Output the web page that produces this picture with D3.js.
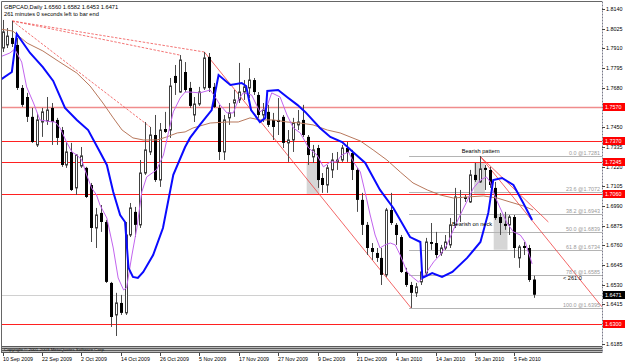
<!DOCTYPE html>
<html>
<head>
<meta charset="utf-8">
<script src="https://cdn.jsdelivr.net/npm/d3@7"></script>
<style>
body { margin: 0; background: #fff; }
text { font-family: "Liberation Sans", Arial, sans-serif; }
</style>
</head>
<body>
<script>
// GBPCAD daily bars, 10 Sep 2009 .. 11 Feb 2010 (bar index 0..108)
var opens = [1.7912,1.7930,1.7971,1.7930,1.7679,1.7626,1.7510,1.7346,1.7480,1.7486,
    1.7562,1.7492,1.7433,1.7229,1.7305,1.7095,1.7223,1.7212,1.7112,1.6861,
    1.6949,1.6896,1.6540,1.6353,1.6423,1.6365,1.6820,1.6955,1.6879,1.7182,
    1.7305,1.7404,1.7141,1.7439,1.7433,1.7749,1.7655,1.7772,1.7679,1.7521,
    1.7585,1.7679,1.7860,1.7685,1.7562,1.7305,1.7504,1.7591,1.7609,1.7655,
    1.7679,1.7725,1.7638,1.7521,1.7539,1.7492,1.7492,1.7510,1.7358,1.7375,
    1.7463,1.7492,1.7393,1.7276,1.7328,1.7153,1.7112,1.7200,1.7247,1.7258,
    1.7328,1.7299,1.7200,1.7025,1.6879,1.6744,1.6715,1.6686,1.6587,1.6966,
    1.6879,1.6808,1.6604,1.6528,1.6482,1.6546,1.6598,1.6779,1.6773,1.6715,
    1.6744,1.6762,1.6879,1.7042,1.7042,1.7013,1.7171,1.7130,1.7212,1.7200,
    1.7095,1.6925,1.6885,1.6879,1.6925,1.6686,1.6756,1.6744,1.6560];
var highs = [1.8076,1.8029,1.8070,1.7971,1.7696,1.7650,1.7562,1.7533,1.7562,1.7626,
    1.7591,1.7504,1.7451,1.7363,1.7358,1.7293,1.7334,1.7218,1.7124,1.6978,
    1.6995,1.6908,1.6546,1.6482,1.6470,1.6896,1.7007,1.6984,1.7258,1.7480,
    1.7451,1.7521,1.7474,1.7539,1.7737,1.7813,1.7871,1.7830,1.7714,1.7626,
    1.7685,1.7889,1.7883,1.7708,1.7580,1.7521,1.7591,1.7667,1.7825,1.7725,
    1.7795,1.7737,1.7655,1.7591,1.7580,1.7533,1.7620,1.7521,1.7433,1.7504,
    1.7550,1.7580,1.7404,1.7346,1.7346,1.7182,1.7229,1.7299,1.7305,1.7346,
    1.7363,1.7317,1.7212,1.7066,1.6896,1.6773,1.6744,1.6744,1.6978,1.7066,
    1.6890,1.6820,1.6628,1.6546,1.6540,1.6628,1.6803,1.6890,1.6838,1.6762,
    1.6820,1.6919,1.7095,1.7083,1.7054,1.7200,1.7241,1.7281,1.7229,1.7218,
    1.7130,1.6949,1.6955,1.6937,1.6937,1.6762,1.6779,1.6762,1.6582];
var lows = [1.7889,1.7912,1.7918,1.7667,1.7568,1.7480,1.7358,1.7334,1.7393,1.7463,
    1.7346,1.7346,1.7218,1.7212,1.7077,1.7054,1.7212,1.7036,1.6779,1.6744,
    1.6838,1.6540,1.6283,1.6230,1.6353,1.6353,1.6808,1.6808,1.6861,1.7171,
    1.7287,1.7130,1.7101,1.7416,1.7387,1.7638,1.7650,1.7655,1.7562,1.7480,
    1.7574,1.7667,1.7655,1.7562,1.7258,1.7258,1.7463,1.7510,1.7591,1.7609,
    1.7620,1.7638,1.7504,1.7480,1.7451,1.7375,1.7404,1.7328,1.7247,1.7305,
    1.7433,1.7393,1.7229,1.7241,1.7095,1.7066,1.7066,1.7153,1.7200,1.7247,
    1.7247,1.7141,1.6955,1.6820,1.6703,1.6674,1.6663,1.6528,1.6575,1.6879,
    1.6762,1.6598,1.6517,1.6394,1.6458,1.6528,1.6587,1.6733,1.6686,1.6698,
    1.6733,1.6744,1.6861,1.6896,1.7013,1.7007,1.7130,1.7124,1.7083,1.7095,
    1.6908,1.6820,1.6850,1.6820,1.6686,1.6628,1.6703,1.6546,1.6453];
var closes = [1.8006,1.7982,1.7936,1.7679,1.7580,1.7510,1.7363,1.7492,1.7539,1.7550,
    1.7480,1.7387,1.7229,1.7305,1.7083,1.7287,1.7282,1.7042,1.6861,1.6937,
    1.6896,1.6546,1.6341,1.6423,1.6365,1.6820,1.6978,1.6879,1.7182,1.7317,
    1.7404,1.7141,1.7433,1.7422,1.7690,1.7708,1.7842,1.7667,1.7574,1.7585,
    1.7655,1.7854,1.7679,1.7568,1.7305,1.7492,1.7533,1.7609,1.7655,1.7685,
    1.7725,1.7655,1.7521,1.7550,1.7463,1.7451,1.7480,1.7358,1.7375,1.7474,
    1.7480,1.7404,1.7287,1.7317,1.7141,1.7112,1.7212,1.7258,1.7258,1.7328,
    1.7299,1.7200,1.7025,1.6879,1.6744,1.6721,1.6686,1.6587,1.6966,1.6890,
    1.6820,1.6604,1.6528,1.6482,1.6517,1.6604,1.6779,1.6768,1.6703,1.6744,
    1.6779,1.6879,1.7042,1.7036,1.7031,1.7171,1.7141,1.7206,1.7200,1.7112,
    1.6919,1.6890,1.6873,1.6925,1.6744,1.6750,1.6744,1.6557,1.6471];

// date labels, one every 8 bars
var dateLabels = ["10 Sep 2009", "22 Sep 2009", "2 Oct 2009", "14 Oct 2009", "26 Oct 2009",
    "5 Nov 2009", "17 Nov 2009", "27 Nov 2009", "9 Dec 2009", "21 Dec 2009",
    "4 Jan 2010", "14 Jan 2010", "26 Jan 2010", "5 Feb 2010"];
var priceTicks = [1.8140, 1.8025, 1.7910, 1.7795, 1.7680, 1.7450, 1.7335, 1.7220,
    1.7105, 1.6990, 1.6875, 1.6760, 1.6645, 1.6530, 1.6415, 1.6185];

// indicator lines: [bar, price]
var blueLine = [[-0.5,1.7725],[1.9,1.7772],[2.9,1.7994],[5.6,1.7883],[8.2,1.7801],[10.3,1.7720],
    [12.7,1.7562],[15.1,1.7492],[17.4,1.7433],[19.8,1.7305],[21.2,1.7229],[22.5,1.7071],
    [23.9,1.6937],[24.9,1.6896],[25.6,1.6628],[26.5,1.6575],[27.5,1.6569],[28.6,1.6604],
    [30.6,1.6703],[32.6,1.6861],[34.7,1.7171],[37.1,1.7334],[38.1,1.7387],[40.1,1.7463],
    [42.5,1.7550],[43.9,1.7754],[46.3,1.7696],[48.6,1.7708],[49.5,1.7690],[50.5,1.7550],
    [52.3,1.7480],[53.4,1.7504],[53.8,1.7661],[56,1.7667],[57.8,1.7626],[59.9,1.7580],
    [61.5,1.7539],[64.5,1.7445],[66.6,1.7393],[69,1.7363],[71.2,1.7305],[73.7,1.7241],
    [74.7,1.7188],[76.7,1.7083],[79.4,1.6978],[82.8,1.6808],[84.9,1.6779],[85.3,1.6569],
    [87.3,1.6598],[89.3,1.6575],[91.4,1.6604],[94.4,1.6686],[97.1,1.6779],[98.7,1.6949],
    [99.7,1.7141],[101.5,1.7153],[103.8,1.7112],[105.8,1.7007],[107.6,1.6908]];
var purpleLine = [[-0.5,1.7860],[1.5,1.7883],[2.5,1.7906],[3.9,1.7830],[4.9,1.7685],[6.3,1.7591],
    [7.6,1.7492],[9.7,1.7482],[10.7,1.7480],[11.7,1.7445],[13,1.7363],[14.1,1.7305],
    [15.1,1.7287],[16.1,1.7258],[17.1,1.7171],[18.1,1.7095],[19.1,1.7054],[19.8,1.6995],
    [21.2,1.6919],[22.5,1.6744],[23.5,1.6569],[24.6,1.6499],[25.2,1.6511],[26.3,1.6703],
    [27.3,1.6861],[28.3,1.7071],[29.3,1.7159],[31.3,1.7200],[32.7,1.7287],[33.7,1.7416],
    [34.7,1.7539],[36.1,1.7620],[37.1,1.7655],[38.1,1.7655],[40.1,1.7650],[42.2,1.7667],
    [43.2,1.7626],[44.2,1.7580],[45.6,1.7533],[46.9,1.7533],[47.9,1.7609],[48.9,1.7650],
    [50.6,1.7638],[52.3,1.7539],[53.7,1.7568],[54.7,1.7650],[56.4,1.7626],[57.8,1.7521],
    [59.1,1.7445],[60.5,1.7416],[62.2,1.7328],[63.9,1.7287],[65.2,1.7218],[66.6,1.7247],
    [67.9,1.7247],[68.9,1.7287],[70.3,1.7305],[71.3,1.7247],[72.7,1.7188],[73.7,1.7066],
    [74.7,1.6937],[75.7,1.6820],[76.7,1.6744],[77.7,1.6762],[78.8,1.6773],[79.8,1.6762],
    [80.8,1.6703],[82.2,1.6604],[83.5,1.6569],[84.5,1.6546],[85.5,1.6569],[86.2,1.6604],
    [87.6,1.6663],[88.9,1.6703],[90.3,1.6762],[91.6,1.6850],[93,1.6937],[94.3,1.7013],
    [95.7,1.7095],[97.1,1.7141],[98.3,1.7159],[99.1,1.7130],[100.1,1.7042],[101.1,1.6978],
    [102.5,1.6890],[103.8,1.6838],[105.2,1.6820],[106.2,1.6779],[107.6,1.6651]];
var brownLine = [[-0.5,1.8023],[2.1,1.8011],[5,1.7941],[8.2,1.7895],[11.3,1.7836],[15.1,1.7766],
    [17.8,1.7690],[20.4,1.7591],[22.5,1.7504],[24.3,1.7433],[26.5,1.7387],[28.6,1.7375],
    [31.4,1.7375],[33.4,1.7393],[35.5,1.7416],[37.1,1.7422],[38.7,1.7445],[42.2,1.7474],
    [45.6,1.7480],[47.9,1.7480],[50.3,1.7504],[52.3,1.7492],[55,1.7492],[57.8,1.7480],
    [60.5,1.7474],[63.1,1.7463],[66,1.7433],[68.6,1.7416],[70.6,1.7393],[72.7,1.7369],
    [75.3,1.7317],[78.1,1.7258],[80.8,1.7188],[83.4,1.7124],[86.3,1.7083],[88.9,1.7054],
    [91.6,1.7036],[94.4,1.7042],[97.7,1.7048],[100.5,1.7036],[103.1,1.7013],[105.8,1.6990],
    [107.8,1.6966]];

// drawn objects
var levels = [1.7570, 1.7370, 1.7245, 1.7060, 1.6300];
var fibPcts = ["0.0", "23.6", "38.2", "50.0", "61.8", "78.6", "100.0"];
var fibPrices = [1.7281, 1.7072, 1.6943, 1.6839, 1.6734, 1.6585, 1.6395];
var fibStartBar = 82.6;
var dashedLines = [[2, 1.8070, 41, 1.7889], [2, 1.8070, 36, 1.7871], [2, 1.8070, 30, 1.7451]];
var trendLines = [[41, 1.7889, 83, 1.6394], [97, 1.7281, 121.8, 1.6400], [97, 1.7281, 110.9, 1.6896]];
var shadeBoxes = [[61.8, 64.4, 1.7245, 1.7060], [95.8, 98.0, 1.7245, 1.7060], [99.8, 102.6, 1.6943, 1.6734]];
var notes = [["Bearish pattern", 93.3, 1.7299], ["Bearish on neck", 91.3, 1.6873]];

var width = 625,
    height = 364,
    plotRight = 602,
    plotBottom = 345;

var svg = d3.select('body')
    .append('svg')
    .attr('width', width)
    .attr('height', height);

var x = d3.scaleLinear().domain([0, 121.8]).range([2.5, plotRight]);
var y = d3.scaleLinear().domain([1.6185, 1.8140]).range([343.7, 9]);

svg.append("defs").append("clipPath")
    .attr("id", "plot")
    .append("rect")
    .attr("x", 2).attr("y", 2)
    .attr("width", plotRight - 2).attr("height", plotBottom - 2);

var plot = svg.append("g").attr("clip-path", "url(#plot)");

// shaded pattern boxes
plot.selectAll("rect.shade")
    .data(shadeBoxes)
    .enter().append("rect")
    .attr("class", "shade")
    .attr("x", function (d) { return x(d[0]); })
    .attr("y", function (d) { return y(d[2]); })
    .attr("width", function (d) { return x(d[1]) - x(d[0]); })
    .attr("height", function (d) { return y(d[3]) - y(d[2]); })
    .attr("fill", "#d6d6d6");

// fibonacci levels
for (var f = 0; f < fibPrices.length; ++f) {
    var fy = Math.round(y(fibPrices[f])) + 0.5;
    plot.append("line")
        .attr("x1", x(fibStartBar)).attr("x2", plotRight)
        .attr("y1", fy).attr("y2", fy)
        .attr("stroke", "#b4b4b4")
        .attr("stroke-width", 1);
    svg.append("text")
        .attr("x", 600)
        .attr("y", fy - 1.5)
        .attr("text-anchor", "end")
        .style("font-size", "5.4px")
        .style("fill", "#9a9a9a")
        .text(fibPcts[f] + " @" + fibPrices[f].toFixed(4));
}

// bid line
var bidY = Math.round(y(closes[closes.length - 1])) + 0.5;
plot.append("line")
    .attr("x1", 2).attr("x2", plotRight)
    .attr("y1", bidY).attr("y2", bidY)
    .attr("stroke", "#d0d0d0");

// horizontal levels
plot.selectAll("line.level")
    .data(levels)
    .enter().append("line")
    .attr("class", "level")
    .attr("x1", 2).attr("x2", plotRight)
    .attr("y1", function (d) { return Math.round(y(d)) + 0.5; })
    .attr("y2", function (d) { return Math.round(y(d)) + 0.5; })
    .attr("stroke", function (d, i) { return i === 0 ? "#f08c8c" : "#ff2020"; })
    .attr("stroke-width", function (d, i) { return i === 0 ? 1.6 : 1; });

// trend lines
plot.selectAll("line.dash")
    .data(dashedLines)
    .enter().append("line")
    .attr("x1", function (d) { return x(d[0]); })
    .attr("y1", function (d) { return y(d[1]); })
    .attr("x2", function (d) { return x(d[2]); })
    .attr("y2", function (d) { return y(d[3]); })
    .attr("stroke", "#f05050")
    .attr("stroke-width", 0.8)
    .attr("stroke-dasharray", "2.5,1.5");
plot.selectAll("line.trend")
    .data(trendLines)
    .enter().append("line")
    .attr("x1", function (d) { return x(d[0]); })
    .attr("y1", function (d) { return y(d[1]); })
    .attr("x2", function (d) { return x(d[2]); })
    .attr("y2", function (d) { return y(d[3]); })
    .attr("stroke", "#f04040")
    .attr("stroke-width", 0.8);

// candles
var bars = d3.range(opens.length);
plot.selectAll("line.wick")
    .data(bars)
    .enter().append("line")
    .attr("x1", function (i) { return Math.round(x(i)) + 0.5; })
    .attr("x2", function (i) { return Math.round(x(i)) + 0.5; })
    .attr("y1", function (i) { return y(highs[i]); })
    .attr("y2", function (i) { return y(lows[i]); })
    .attr("stroke", "#4a4a4a")
    .attr("stroke-width", 1);
plot.selectAll("rect.body")
    .data(bars)
    .enter().append("rect")
    .attr("x", function (i) {
        return closes[i] >= opens[i] ? Math.round(x(i)) - 0.5 : Math.round(x(i)) - 1;
    })
    .attr("y", function (i) { return y(Math.max(opens[i], closes[i])); })
    .attr("width", function (i) { return closes[i] >= opens[i] ? 2 : 3; })
    .attr("height", function (i) {
        return Math.max(1, Math.abs(y(opens[i]) - y(closes[i])));
    })
    .attr("fill", function (i) { return closes[i] >= opens[i] ? "#fff" : "#000"; })
    .attr("stroke", function (i) { return closes[i] >= opens[i] ? "#404040" : "none"; })
    .attr("stroke-width", 1);

// indicators
var line = d3.line()
    .x(function (d) { return x(d[0]); })
    .y(function (d) { return y(d[1]); });
plot.append("path").datum(brownLine).attr("d", line)
    .attr("fill", "none").attr("stroke", "#b8785c").attr("stroke-width", 1);
plot.append("path").datum(purpleLine).attr("d", line)
    .attr("fill", "none").attr("stroke", "#c264ee").attr("stroke-width", 1);
plot.append("path").datum(blueLine).attr("d", line)
    .attr("fill", "none").attr("stroke", "#0a0aff").attr("stroke-width", 2);

// notes
svg.selectAll("text.note")
    .data(notes)
    .enter().append("text")
    .attr("x", function (d) { return x(d[1]); })
    .attr("y", function (d) { return y(d[2]); })
    .style("font-size", "5.6px")
    .style("fill", "#000")
    .text(function (d) { return d[0]; });
svg.append("text")
    .attr("x", 563).attr("y", 280)
    .style("font-size", "5.6px")
    .text("< 261:0");

// header
svg.append("text")
    .attr("x", 4).attr("y", 9)
    .style("font-size", "5.7px")
    .text("GBPCAD,Daily  " + opens[108].toFixed(4) + " " + highs[108].toFixed(4) + " " +
        lows[108].toFixed(4) + " " + closes[108].toFixed(4));
svg.append("text")
    .attr("x", 4).attr("y", 16)
    .style("font-size", "5.7px")
    .text("261 minutes 0 seconds left to bar end");

// frame
svg.append("line").attr("x1", 1.5).attr("x2", plotRight).attr("y1", 1.5).attr("y2", 1.5)
    .attr("stroke", "#666");
svg.append("line").attr("x1", 1.5).attr("x2", 1.5).attr("y1", 1.5).attr("y2", 353)
    .attr("stroke", "#666");
svg.append("line").attr("x1", plotRight + 0.5).attr("x2", plotRight + 0.5).attr("y1", 1.5).attr("y2", 353)
    .attr("stroke", "#7a7a8a").attr("stroke-dasharray", "2,1");

// bottom band
svg.append("rect").attr("x", 2).attr("y", 346).attr("width", plotRight - 2).attr("height", 6)
    .attr("fill", "#bdbdbd");
[346.5, 348.5, 350.5, 352.5].forEach(function (by) {
    svg.append("line").attr("x1", 2).attr("x2", plotRight).attr("y1", by).attr("y2", by)
        .attr("stroke", "#5a5a5a");
});
svg.append("text")
    .attr("x", 4).attr("y", 350.5)
    .style("font-size", "4.4px")
    .style("fill", "#111")
    .text("Copyright \u00a9 2001-2009 MetaQuotes Software Corp.");

// price axis
for (var t = 0; t < priceTicks.length; ++t) {
    var ty = Math.round(y(priceTicks[t])) + 0.5;
    svg.append("line").attr("x1", plotRight).attr("x2", plotRight + 3)
        .attr("y1", ty).attr("y2", ty).attr("stroke", "#444");
    svg.append("text")
        .attr("x", 606).attr("y", ty)
        .attr("dy", "0.35em")
        .style("font-size", "5.4px")
        .text(priceTicks[t].toFixed(4));
}
function priceBox(p, bg) {
    var by = Math.round(y(p));
    svg.append("rect").attr("x", 603).attr("y", by - 4).attr("width", 22).attr("height", 8)
        .attr("fill", bg);
    svg.append("text")
        .attr("x", 605).attr("y", by)
        .attr("dy", "0.35em")
        .style("font-size", "5.4px")
        .style("fill", "#fff")
        .text(p.toFixed(4));
}
levels.forEach(function (p) { priceBox(p, "#ff0000"); });
priceBox(closes[closes.length - 1], "#000");

// time axis
for (var k = 0; k < dateLabels.length; ++k) {
    var tx = Math.round(x(k * 8)) + 0.5;
    svg.append("line").attr("x1", tx).attr("x2", tx).attr("y1", 353).attr("y2", 356)
        .attr("stroke", "#444");
    svg.append("text")
        .attr("x", tx - 0.5).attr("y", 360.5)
        .style("font-size", "5.3px")
        .text(dateLabels[k]);
}
</script>
</body>
</html>
